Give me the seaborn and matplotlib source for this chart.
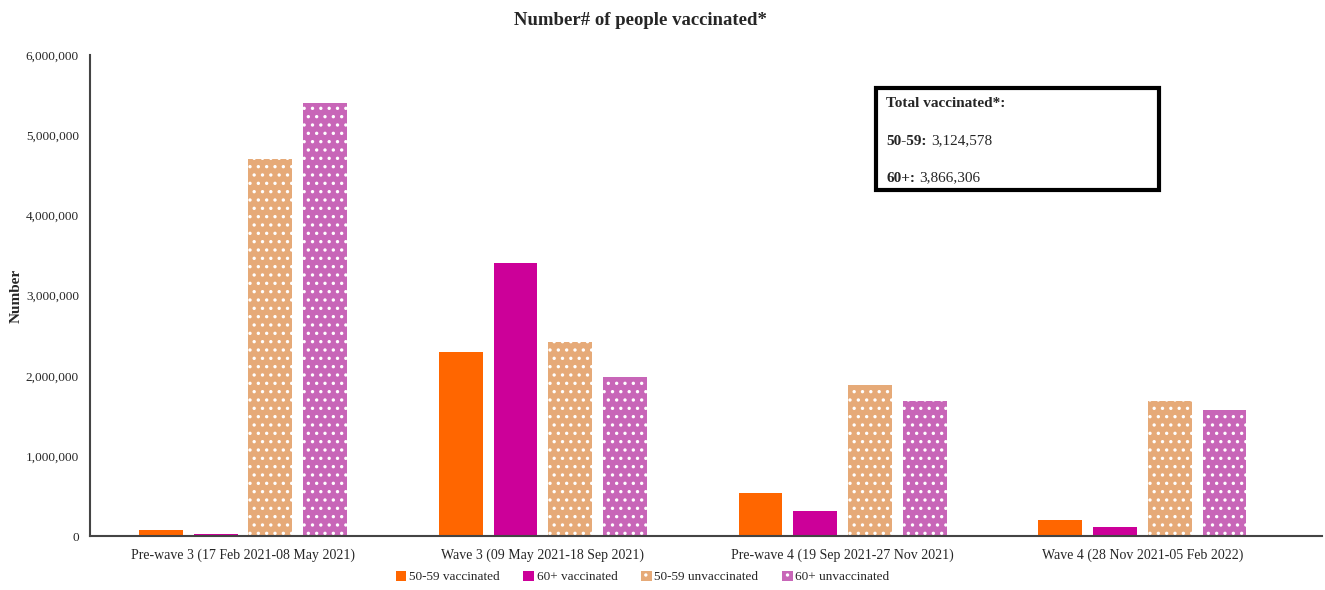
import pandas as pd
import matplotlib
matplotlib.use("Agg")
import matplotlib.pyplot as plt
from matplotlib.patches import Rectangle
from matplotlib.ticker import FuncFormatter
import seaborn as sns

# data
periods = [
    "Pre-wave 3 (17 Feb 2021-08 May 2021)",
    "Wave 3 (09 May 2021-18 Sep 2021)",
    "Pre-wave 4 (19 Sep 2021-27 Nov 2021)",
    "Wave 4 (28 Nov 2021-05 Feb 2022)",
]
groups = ["50-59 vaccinated", "60+ vaccinated", "50-59 unvaccinated", "60+ unvaccinated"]
vacc_50_59 = [80000, 2300000, 545000, 200000]
vacc_60 = [35000, 3400000, 320000, 110000]
unvacc_50_59 = [4700000, 2420000, 1880000, 1690000]
unvacc_60 = [5400000, 1990000, 1690000, 1580000]
colors = ["#FF6600", "#CC0099", "#E6AA78", "#C866B8"]

total_lines = [("50-59:", "3,124,578"), ("60+:", "3,866,306")]

rows = []
for g, vals in zip(groups, [vacc_50_59, vacc_60, unvacc_50_59, unvacc_60]):
    for p, v in zip(periods, vals):
        rows.append({"period": p, "group": g, "value": v})
df = pd.DataFrame(rows)

sns.set_style("white")
plt.rcParams["font.family"] = ["Liberation Serif", "DejaVu Serif"]
plt.rcParams["hatch.linewidth"] = 1.2

fig = plt.figure(figsize=(13.25, 5.9), dpi=100)
ax = fig.add_axes([0.068, 0.091, 0.93, 0.816])

sns.barplot(data=df, x="period", y="value", hue="group", hue_order=groups,
            palette=colors, width=0.73, gap=0.2, saturation=1, ax=ax,
            legend=False)

# dotted fill for the unvaccinated bars
for i, cont in enumerate(ax.containers):
    for bar in cont:
        bar.set_linewidth(0)
        if i >= 2:
            bar.set_hatch("..")
            bar.set_edgecolor("white")

ax.set_ylim(0, 6000000)
ax.set_xlim(-0.51, 3.6)
ax.yaxis.set_major_formatter(FuncFormatter(lambda v, _: f"{int(v):,}"))
ax.tick_params(axis="x", length=0, labelsize=10, pad=9)
ax.tick_params(axis="y", length=0, labelsize=9.5, pad=8)
ax.set_xlabel("")
ax.set_ylabel("Number", fontsize=11, fontweight="bold")
ax.yaxis.set_label_coords(-0.055, 0.5)
sns.despine(ax=ax)
for side in ["left", "bottom"]:
    ax.spines[side].set_color("#444444")
    ax.spines[side].set_linewidth(1.5)

fig.text(0.483, 0.965, "Number# of people vaccinated*", ha="center", va="center",
         fontsize=13.5, fontweight="bold")

# legend at the bottom
handles = []
for i, g in enumerate(groups):
    h = Rectangle((0, 0), 1, 1, facecolor=colors[i], linewidth=0)
    if i >= 2:
        h.set_hatch("..")
        h.set_edgecolor("white")
    handles.append(h)
fig.legend(handles, groups, loc="center", bbox_to_anchor=(0.485, 0.022), ncol=4,
           frameon=False, fontsize=9.5, handlelength=0.8, handleheight=0.8,
           handletextpad=0.2, columnspacing=1.8)

# totals box
box = Rectangle((0.661, 0.678), 0.214, 0.172, transform=fig.transFigure,
                fill=False, edgecolor="black", linewidth=3)
fig.patches.append(box)
fig.text(0.669, 0.825, "Total vaccinated*:", fontsize=11, fontweight="bold",
         va="center")

fig.canvas.draw()
renderer = fig.canvas.get_renderer()
for (label, number), y in zip(total_lines, [0.761, 0.698]):
    t = fig.text(0.669, y, label, fontsize=11, fontweight="bold", va="center")
    ext = t.get_window_extent(renderer=renderer)
    x_next = (ext.x1 + 4) / fig.bbox.width
    fig.text(x_next, y, number, fontsize=11, va="center")

fig.savefig("out.png", dpi=100)
